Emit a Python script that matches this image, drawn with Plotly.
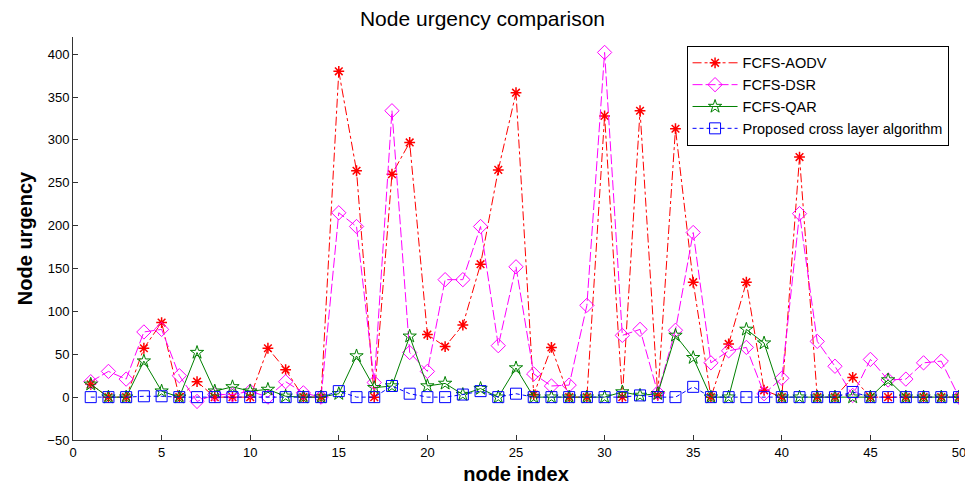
import plotly.graph_objects as go

node_index = list(range(1, 51))

fcfs_aodv = [15, 0, 0, 57, 87, 0, 18, 0, 0, 0,
             57, 32, 0, 0, 380, 264, 0, 260, 297, 73,
             59, 84, 155, 265, 355, 3, 58, 0, 0, 328,
             0, 334, 2, 313, 134, 0, 62, 134, 8, 0,
             280, 0, 0, 23, 0, 0, 0, 0, 0, 0]

fcfs_dsr = [18, 30, 21, 76, 79, 25, -5, 3, 3, 7,
            0, 18, 5, 0, 215, 199, 17, 334, 52, 30,
            137, 137, 199, 60, 152, 27, 13, 14, 107, 402,
            72, 79, 5, 78, 192, 40, 54, 58, 4, 22,
            214, 65, 36, 2, 44, 20, 21, 40, 42, 0]

fcfs_qar = [15, 0, 0, 42, 7, 0, 52, 7, 12, 7,
            9, 1, 0, 0, 4, 48, 11, 13, 71, 13,
            16, 3, 10, 0, 34, 0, 0, 0, 0, 0,
            6, 2, 4, 72, 46, 0, 0, 79, 63, 0,
            0, 0, 0, 0, 0, 20, 0, 0, 0, 0]

proposed = [0, 0, 0, 1, 1, 0, 0, 0, 0, 0,
            0, 0, 0, 0, 7, 0, 0, 13, 4, 0,
            0, 3, 7, 0, 4, 0, 0, 0, 0, 0,
            0, 2, 0, 0, 12, 0, 0, 0, 0, 0,
            0, 0, 0, 6, 0, 0, 0, 0, 0, 0]

x_ticks = [0, 5, 10, 15, 20, 25, 30, 35, 40, 45, 50]
y_ticks = [-50, 0, 50, 100, 150, 200, 250, 300, 350, 400]

FONT = "Liberation Sans, Arial, sans-serif"

fig = go.Figure()
fig.add_trace(go.Scatter(
    x=node_index, y=fcfs_aodv, name="FCFS-AODV", mode="lines+markers",
    line=dict(color="#ff0000", width=1, dash="dashdot"),
    marker=dict(symbol="asterisk-open", size=9, color="#ff0000",
                line=dict(color="#ff0000", width=1.5)),
))
fig.add_trace(go.Scatter(
    x=node_index, y=fcfs_dsr, name="FCFS-DSR", mode="lines+markers",
    line=dict(color="#ff00ff", width=1, dash="10px,3px"),
    marker=dict(symbol="diamond-open", size=11, color="#ff00ff",
                line=dict(color="#ff00ff", width=1)),
))
fig.add_trace(go.Scatter(
    x=node_index, y=fcfs_qar, name="FCFS-QAR", mode="lines+markers",
    line=dict(color="#008000", width=1),
    marker=dict(symbol="star-open", size=10, color="#008000",
                line=dict(color="#008000", width=1)),
))
fig.add_trace(go.Scatter(
    x=node_index, y=proposed, name="Proposed cross layer algorithm", mode="lines+markers",
    line=dict(color="#0000ff", width=1, dash="4px,3px"),
    marker=dict(symbol="square-open", size=11, color="#0000ff",
                line=dict(color="#0000ff", width=1)),
))

fig.update_layout(
    width=965, height=485,
    margin=dict(l=73, r=6, t=37, b=45),
    paper_bgcolor="white", plot_bgcolor="white",
    font=dict(family=FONT, size=13, color="#000000"),
    title=dict(text="Node urgency comparison", x=0.5, xanchor="center",
               y=0.962, yanchor="middle",
               font=dict(family=FONT, size=21, color="#000000")),
    showlegend=True,
    legend=dict(x=0.6925, y=0.978, xanchor="left", yanchor="top",
                bgcolor="white", bordercolor="#000000", borderwidth=1,
                font=dict(family=FONT, size=14.5, color="#000000"),
                itemwidth=45, tracegroupgap=0),
    xaxis=dict(range=[0, 50], tickvals=x_ticks, ticks="inside", ticklen=5,
               tickcolor="#333333", showline=True, linecolor="#333333", linewidth=1,
               showgrid=False, zeroline=False, mirror=False, automargin=False,
               ticklabeloverflow="allow",
               tickfont=dict(family=FONT, size=13, color="#000000"),
               title=dict(text="<b>node index</b>", standoff=9,
                          font=dict(family=FONT, size=20, color="#000000"))),
    yaxis=dict(range=[-50, 420], tickvals=y_ticks, ticks="inside", ticklen=5,
               tickcolor="#333333", showline=True, linecolor="#333333", linewidth=1,
               showgrid=False, zeroline=False, mirror=False, automargin=False,
               tickfont=dict(family=FONT, size=13, color="#000000"),
               title=dict(text="<b>Node urgency</b>", standoff=9,
                          font=dict(family=FONT, size=20, color="#000000"))),
)

fig.write_html("out.html", config={"displayModeBar": False},
               post_script="document.body.style.margin='0';document.body.style.overflow='hidden';")
